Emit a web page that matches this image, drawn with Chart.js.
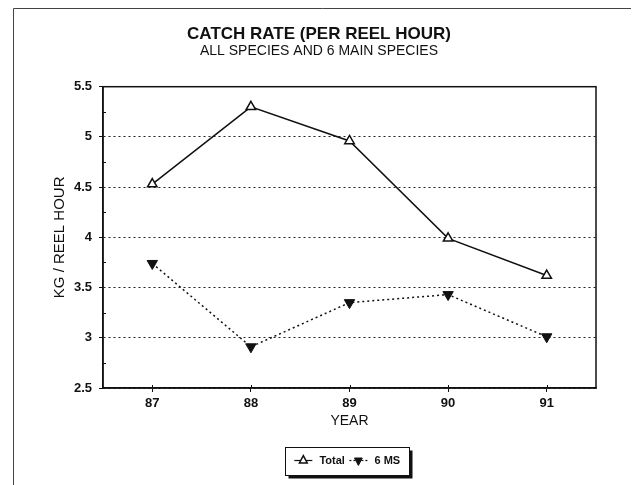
<!DOCTYPE html>
<html>
<head>
<meta charset="utf-8">
<script src="https://cdn.jsdelivr.net/npm/chart.js@4.4.0/dist/chart.umd.min.js"></script>
<style>
  html, body { margin: 0; padding: 0; background: #fff; }
</style>
</head>
<body>
<canvas id="catchChart" width="632" height="485"></canvas>
<script>
// data
const years = ['87', '88', '89', '90', '91'];
const totalRate = [4.53, 5.30, 4.96, 3.99, 3.62];
const mainSpeciesRate = [3.74, 2.91, 3.35, 3.43, 3.01];
const seriesNames = ['Total', '6 MS'];
const yRange = [2.5, 5.5];
const yStep = 0.5;

const FONT = '"Liberation Sans", Arial, sans-serif';
const INK = '#111';
const MARKER_W = 9;     // legend marker box width
const SAMPLE_HALF = 9;  // half length of the line sample in the legend

// frame round the page, box round the plot, small ticks, legend box
const framePlugin = {
  id: 'frame',
  beforeDraw(chart) {
    const ctx = chart.ctx;
    ctx.save();
    ctx.strokeStyle = '#444';
    ctx.lineWidth = 1;
    ctx.beginPath();
    ctx.moveTo(13.5, 485);
    ctx.lineTo(13.5, 8.5);
    ctx.lineTo(631, 8.5);
    ctx.stroke();

    // legend box with drop shadow
    const boxes = chart.legend.legendHitBoxes;
    if (boxes && boxes.length) {
      const first = boxes[0];
      const last = boxes[boxes.length - 1];
      const cy = first.top + first.height / 2;
      const left = first.left + MARKER_W / 2 - SAMPLE_HALF - 9;
      const right = last.left + last.width + 9;
      const x = Math.round(left) + 0.5;
      const w = Math.round(right - left);
      const y = Math.round(cy - 14) + 0.5;
      const h = 28;
      ctx.fillStyle = '#111';
      ctx.fillRect(x + 3, y + 3, w, h);
      ctx.fillStyle = '#fff';
      ctx.fillRect(x, y, w, h);
      ctx.strokeStyle = INK;
      ctx.lineWidth = 1;
      ctx.strokeRect(x, y, w, h);

      // line sample through each legend marker
      boxes.forEach((b, i) => {
        const cx = b.left + MARKER_W / 2;
        ctx.beginPath();
        ctx.setLineDash(i === 1 ? [2, 2] : []);
        ctx.lineWidth = 1.2;
        ctx.moveTo(cx - SAMPLE_HALF, cy);
        ctx.lineTo(cx + SAMPLE_HALF, cy);
        ctx.stroke();
      });
      ctx.setLineDash([]);
    }
    ctx.restore();
  },
  beforeDatasetsDraw(chart) {
    const {ctx, chartArea: a, scales} = chart;
    ctx.save();
    ctx.strokeStyle = INK;
    ctx.lineWidth = 1.5;
    ctx.strokeRect(a.left, a.top, a.right - a.left, a.bottom - a.top);

    // minor ticks inside the left axis
    ctx.lineWidth = 1;
    ctx.beginPath();
    for (let v = yRange[0] + yStep / 2; v < yRange[1]; v += yStep) {
      const py = Math.round(scales.y.getPixelForValue(v)) + 0.5;
      ctx.moveTo(a.left, py);
      ctx.lineTo(a.left + 3, py);
    }
    // x ticks also poke up into the plot
    years.forEach((yr, i) => {
      const px = Math.round(scales.x.getPixelForTick(i)) + 0.5;
      ctx.moveTo(px, a.bottom);
      ctx.lineTo(px, a.bottom - 3);
    });
    ctx.stroke();
    ctx.restore();
  }
};

const ctx = document.getElementById('catchChart').getContext('2d');
const chart = new Chart(ctx, {
  type: 'line',
  data: {
    labels: years,
    datasets: [{
      label: seriesNames[0],
      data: totalRate,
      borderColor: INK,
      borderWidth: 1.5,
      pointStyle: 'triangle',
      pointRadius: 5.5,
      pointBorderWidth: 1.5,
      pointBackgroundColor: '#fff',
      pointBorderColor: INK,
      tension: 0
    }, {
      label: seriesNames[1],
      data: mainSpeciesRate,
      borderColor: INK,
      borderWidth: 1.5,
      borderDash: [2, 3],
      pointStyle: 'triangle',
      pointRotation: 180,
      pointRadius: 6,
      pointBorderWidth: 1,
      pointBackgroundColor: INK,
      pointBorderColor: INK,
      tension: 0
    }]
  },
  options: {
    responsive: false,
    animation: false,
    layout: { padding: { left: 6, right: 0, top: 0, bottom: 9 } },
    plugins: {
      title: {
        display: true,
        text: 'CATCH RATE (PER REEL HOUR)',
        color: INK,
        font: { family: FONT, size: 17, weight: 'bold', lineHeight: 1.1 },
        padding: { top: 25, bottom: 0 }
      },
      subtitle: {
        display: true,
        text: 'ALL SPECIES AND 6 MAIN SPECIES',
        color: INK,
        font: { family: FONT, size: 14, lineHeight: 1.0 },
        padding: { top: 0, bottom: 29 }
      },
      legend: {
        position: 'bottom',
        fullSize: false,
        labels: {
          usePointStyle: true,
          pointStyleWidth: MARKER_W,
          boxHeight: 7,
          padding: 9,
          color: INK,
          font: { family: FONT, size: 11, weight: 'bold' },
          // two leading spaces leave room for the right half of the line sample
          generateLabels(chart) {
            const items = Chart.defaults.plugins.legend.labels.generateLabels(chart);
            items.forEach(it => { it.text = '  ' + it.text; });
            return items;
          }
        }
      },
      tooltip: { enabled: false }
    },
    scales: {
      x: {
        type: 'category',
        offset: true,
        afterFit(scale) { scale.height = 58; },
        grid: { offset: false, drawOnChartArea: false, tickLength: 4, color: INK },
        border: { display: true, color: INK, width: 1.5 },
        ticks: { color: INK, padding: 4, font: { family: FONT, size: 13, weight: 'bold' } },
        title: {
          display: true,
          text: 'YEAR',
          color: INK,
          font: { family: FONT, size: 14, lineHeight: 1.2 },
          padding: { top: 0, bottom: 16 }
        }
      },
      y: {
        min: yRange[0],
        max: yRange[1],
        afterFit(scale) { scale.width = 97; },
        ticks: {
          stepSize: yStep,
          color: INK,
          padding: 7,
          font: { family: FONT, size: 13, weight: 'bold' },
          callback: v => String(v)
        },
        grid: { color: '#222', lineWidth: 1, tickLength: 4, tickColor: INK, tickBorderDash: [] },
        border: { display: true, color: INK, width: 1.5, dash: [2, 3] },
        title: {
          display: true,
          text: 'KG / REEL HOUR',
          color: INK,
          font: { family: FONT, size: 15, lineHeight: 1.2 },
          padding: { top: 45, bottom: 0 }
        }
      },
      // empty right-hand axis only to leave the margin right of the plot
      yRight: {
        position: 'right',
        display: true,
        afterFit(scale) { scale.width = 36; },
        grid: { display: false, drawTicks: false },
        border: { display: false },
        ticks: { display: false }
      }
    }
  },
  plugins: [framePlugin]
});
</script>
</body>
</html>
